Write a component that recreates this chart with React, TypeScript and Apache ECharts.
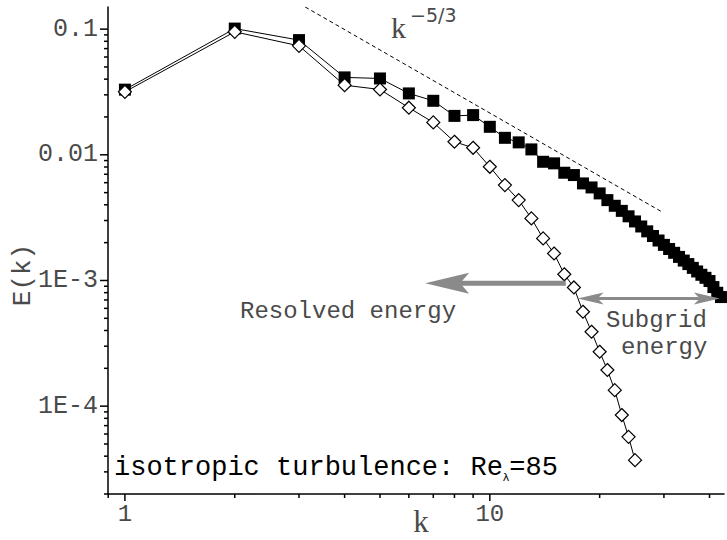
import React, { useEffect, useRef } from "react";
import * as echarts from "echarts";

// ---- data ----
const fullK = [
  1, 2, 3, 4, 5, 6, 7, 8, 9, 10, 11, 12, 13, 14, 15, 16, 17, 18, 19, 20, 21,
  22, 23, 24, 25, 26, 27, 28, 29, 30, 31, 32, 33, 34, 35, 36, 37, 38, 39, 40,
  41, 42, 43,
];
const fullE = [
  0.033, 0.101, 0.0818, 0.0413, 0.0405, 0.0308, 0.0269, 0.0204, 0.0207,
  0.0167, 0.01365, 0.01256, 0.01104, 0.0088, 0.00855, 0.0072, 0.0069,
  0.00592, 0.0055, 0.00493, 0.00436, 0.00393, 0.00358, 0.00324, 0.00295,
  0.00269, 0.00246, 0.00226, 0.00208, 0.00192, 0.00178, 0.00166, 0.00154,
  0.00144, 0.00135, 0.00126, 0.00118, 0.00111, 0.00105, 0.00099, 0.000886,
  0.000798, 0.000738,
];
const resolvedK = [
  1, 2, 3, 4, 5, 6, 7, 8, 9, 10, 11, 12, 13, 14, 15, 16, 17, 18, 19, 20, 21,
  22, 23, 24, 25,
];
const resolvedE = [
  0.0317, 0.0952, 0.0736, 0.0358, 0.0331, 0.0237, 0.0181, 0.0127, 0.01137,
  0.00803, 0.00574, 0.00436, 0.00312, 0.00216, 0.00164, 0.00112, 0.00088,
  0.000564, 0.000391, 0.000271, 0.000194, 0.000134, 0.000085, 0.000057,
  0.0000372,
];
const slopeK = [3.12, 29.9];
const slopeE = [0.15, 0.00346];

const resolvedArrow = [16.15, 0.00095, 6.65, 0.00095];
const subgridArrow = [17.4, 0.00072, 42.7, 0.00072];

const xRange = [0.8988, 43.83];
const yRange = [2e-5, 0.15];

const xMajorTicks = [1, 10];
const xMajorLabels = ["1", "10"];
const xMinorTicks = [0.9, 2, 3, 4, 5, 6, 7, 8, 9, 20, 30, 40];
const yMajorTicks = [1e-4, 1e-3, 1e-2, 1e-1];
const yMajorLabels = ["1E-4", "1E-3", "0.01", "0.1"];
const yMinorTicks = [
  2e-5, 3e-5, 4e-5, 5e-5, 6e-5, 7e-5, 8e-5, 9e-5,
  2e-4, 3e-4, 4e-4, 5e-4, 6e-4, 7e-4, 8e-4, 9e-4,
  2e-3, 3e-3, 4e-3, 5e-3, 6e-3, 7e-3, 8e-3, 9e-3,
  2e-2, 3e-2, 4e-2, 5e-2, 6e-2, 7e-2, 8e-2, 9e-2,
];

const MONO = "'Liberation Mono', 'DejaVu Sans Mono', monospace";
const SERIF = "'Liberation Serif', 'DejaVu Serif', serif";
const TXT = "#4a4a4a";

function labelFor(v: number, ticks: number[], labels: string[]) {
  for (let i = 0; i < ticks.length; i++) {
    if (Math.abs(Math.log10(v) - Math.log10(ticks[i])) < 1e-6) return labels[i];
  }
  return "";
}

function arrowRenderer(
  width: number,
  headLen: number,
  headHalf: number,
  notch: number,
  both: boolean
) {
  return (params: any, api: any) => {
    const a = api.coord([api.value(0), api.value(1)]);
    const b = api.coord([api.value(2), api.value(3)]);
    const dx = b[0] - a[0];
    const dy = b[1] - a[1];
    const L = Math.hypot(dx, dy) || 1;
    const ux = dx / L;
    const uy = dy / L;
    const nx = -uy;
    const ny = ux;
    const head = (tx: number, ty: number, dxu: number, dyu: number) => ({
      type: "polygon",
      shape: {
        points: [
          [tx, ty],
          [tx - dxu * headLen + nx * headHalf, ty - dyu * headLen + ny * headHalf],
          [tx - dxu * (headLen - notch), ty - dyu * (headLen - notch)],
          [tx - dxu * headLen - nx * headHalf, ty - dyu * headLen - ny * headHalf],
        ],
      },
      style: { fill: "#8a8a8a", stroke: "none" },
    });
    const sx = both ? a[0] + ux * (headLen - notch) : a[0];
    const sy = both ? a[1] + uy * (headLen - notch) : a[1];
    const ex = b[0] - ux * (headLen - notch);
    const ey = b[1] - uy * (headLen - notch);
    const children: any[] = [
      {
        type: "line",
        shape: { x1: sx, y1: sy, x2: ex, y2: ey },
        style: { stroke: "#8a8a8a", lineWidth: width },
      },
      head(b[0], b[1], ux, uy),
    ];
    if (both) children.push(head(a[0], a[1], -ux, -uy));
    return { type: "group", children };
  };
}

export default function App() {
  const ref = useRef<HTMLDivElement>(null);

  useEffect(() => {
    if (!ref.current) return;
    const chart = echarts.init(ref.current, null, { renderer: "svg" });

    const tickData: number[][] = [];
    yMajorTicks.forEach((v) => tickData.push([xRange[0], v, 1]));
    yMinorTicks.forEach((v) => tickData.push([xRange[0], v, 2]));
    xMajorTicks.forEach((v) => tickData.push([v, yRange[0], 3]));
    xMinorTicks.forEach((v) => tickData.push([v, yRange[0], 4]));

    const option: any = {
      animation: false,
      backgroundColor: "#ffffff",
      grid: { left: 108, right: 0, top: 7, bottom: 46 },
      xAxis: {
        type: "log",
        logBase: 10,
        min: xRange[0],
        max: xRange[1],
        axisLine: { lineStyle: { color: "#000", width: 1.5 } },
        axisTick: { show: false },
        minorTick: { show: false },
        splitLine: { show: false },
        axisLabel: {
          margin: 8,
          fontFamily: MONO,
          fontSize: 24,
          color: TXT,
          formatter: (v: number) => labelFor(v, xMajorTicks, xMajorLabels),
        },
      },
      yAxis: {
        type: "log",
        logBase: 10,
        min: yRange[0],
        max: yRange[1],
        axisLine: { lineStyle: { color: "#000", width: 1.5 } },
        axisTick: { show: false },
        minorTick: { show: false },
        splitLine: { show: false },
        axisLabel: {
          margin: 10,
          fontFamily: MONO,
          fontSize: 25,
          color: TXT,
          formatter: (v: number) => labelFor(v, yMajorTicks, yMajorLabels),
        },
      },
      series: [
        {
          type: "custom",
          name: "ticks",
          silent: true,
          clip: false,
          data: tickData,
          renderItem: (params: any, api: any) => {
            const kind = api.value(2);
            const p = api.coord([api.value(0), api.value(1)]);
            const cs = params.coordSys;
            if (kind <= 2) {
              const len = kind === 1 ? 8 : 4;
              return {
                type: "line",
                shape: { x1: cs.x - len, y1: p[1], x2: cs.x, y2: p[1] },
                style: { stroke: "#000", lineWidth: 1.5 },
              };
            }
            const len = kind === 3 ? 7 : 4;
            const by = cs.y + cs.height;
            return {
              type: "line",
              shape: { x1: p[0], y1: by, x2: p[0], y2: by + len },
              style: { stroke: "#000", lineWidth: 1.5 },
            };
          },
        },
        {
          type: "line",
          name: "k^-5/3",
          data: slopeK.map((k, i) => [k, slopeE[i]]),
          symbol: "none",
          lineStyle: { color: "#000", width: 1, type: [4, 3] },
          silent: true,
        },
        {
          type: "line",
          name: "full",
          data: fullK.map((k, i) => [k, fullE[i]]),
          symbol: "rect",
          symbolSize: 12,
          itemStyle: { color: "#000" },
          lineStyle: { color: "#000", width: 1 },
          silent: true,
        },
        {
          type: "line",
          name: "resolved",
          data: resolvedK.map((k, i) => [k, resolvedE[i]]),
          symbol: "diamond",
          symbolSize: 13,
          itemStyle: { color: "#fff", borderColor: "#000", borderWidth: 1.2 },
          lineStyle: { color: "#000", width: 1 },
          silent: true,
          z: 3,
        },
        {
          type: "custom",
          name: "resolvedArrow",
          silent: true,
          clip: false,
          data: [resolvedArrow],
          renderItem: arrowRenderer(5, 44, 10.5, 9, false),
          z: 4,
        },
        {
          type: "custom",
          name: "subgridArrow",
          silent: true,
          clip: false,
          data: [subgridArrow],
          renderItem: arrowRenderer(3, 26, 6, 6, true),
          z: 4,
        },
      ],
      graphic: [
        {
          type: "text",
          x: 240,
          y: 311,
          style: {
            text: "Resolved energy",
            font: `24px ${MONO}`,
            fill: TXT,
            verticalAlign: "middle",
          },
        },
        {
          type: "text",
          x: 606,
          y: 320,
          style: {
            text: "Subgrid",
            font: `24px ${MONO}`,
            fill: TXT,
            verticalAlign: "middle",
          },
        },
        {
          type: "text",
          x: 621,
          y: 347,
          style: {
            text: "energy",
            font: `24px ${MONO}`,
            fill: TXT,
            verticalAlign: "middle",
          },
        },
        {
          type: "text",
          x: 114,
          y: 468,
          style: {
            text: "{a|isotropic turbulence: Re}{s|λ}{a|=85}",
            verticalAlign: "middle",
            rich: {
              a: {
                fontFamily: MONO,
                fontSize: 27,
                color: TXT,
                lineHeight: 30,
              },
              s: {
                fontFamily: "'DejaVu Sans', sans-serif",
                fontSize: 11,
                color: TXT,
                lineHeight: 8,
                verticalAlign: "bottom",
              },
            },
          },
        },
        {
          type: "text",
          x: 391,
          y: 27,
          style: {
            text: "k",
            font: `30px ${SERIF}`,
            fill: TXT,
            verticalAlign: "middle",
          },
        },
        {
          type: "text",
          x: 410,
          y: 15,
          style: {
            text: "−5/3",
            font: `19px 'DejaVu Sans', sans-serif`,
            fill: TXT,
            verticalAlign: "middle",
          },
        },
        {
          type: "text",
          x: 421,
          y: 521,
          style: {
            text: "k",
            font: `31px ${SERIF}`,
            fill: TXT,
            align: "center",
            verticalAlign: "middle",
          },
        },
        {
          type: "text",
          x: 23,
          y: 275,
          rotation: Math.PI / 2,
          style: {
            text: "E(k)",
            font: `26px ${MONO}`,
            fill: TXT,
            align: "center",
            verticalAlign: "middle",
          },
        },
      ],
    };

    chart.setOption(option);
    return () => chart.dispose();
  }, []);

  return (
    <div
      ref={ref}
      style={{
        position: "fixed",
        left: 0,
        top: 0,
        width: 727,
        height: 540,
        background: "#fff",
      }}
    />
  );
}
